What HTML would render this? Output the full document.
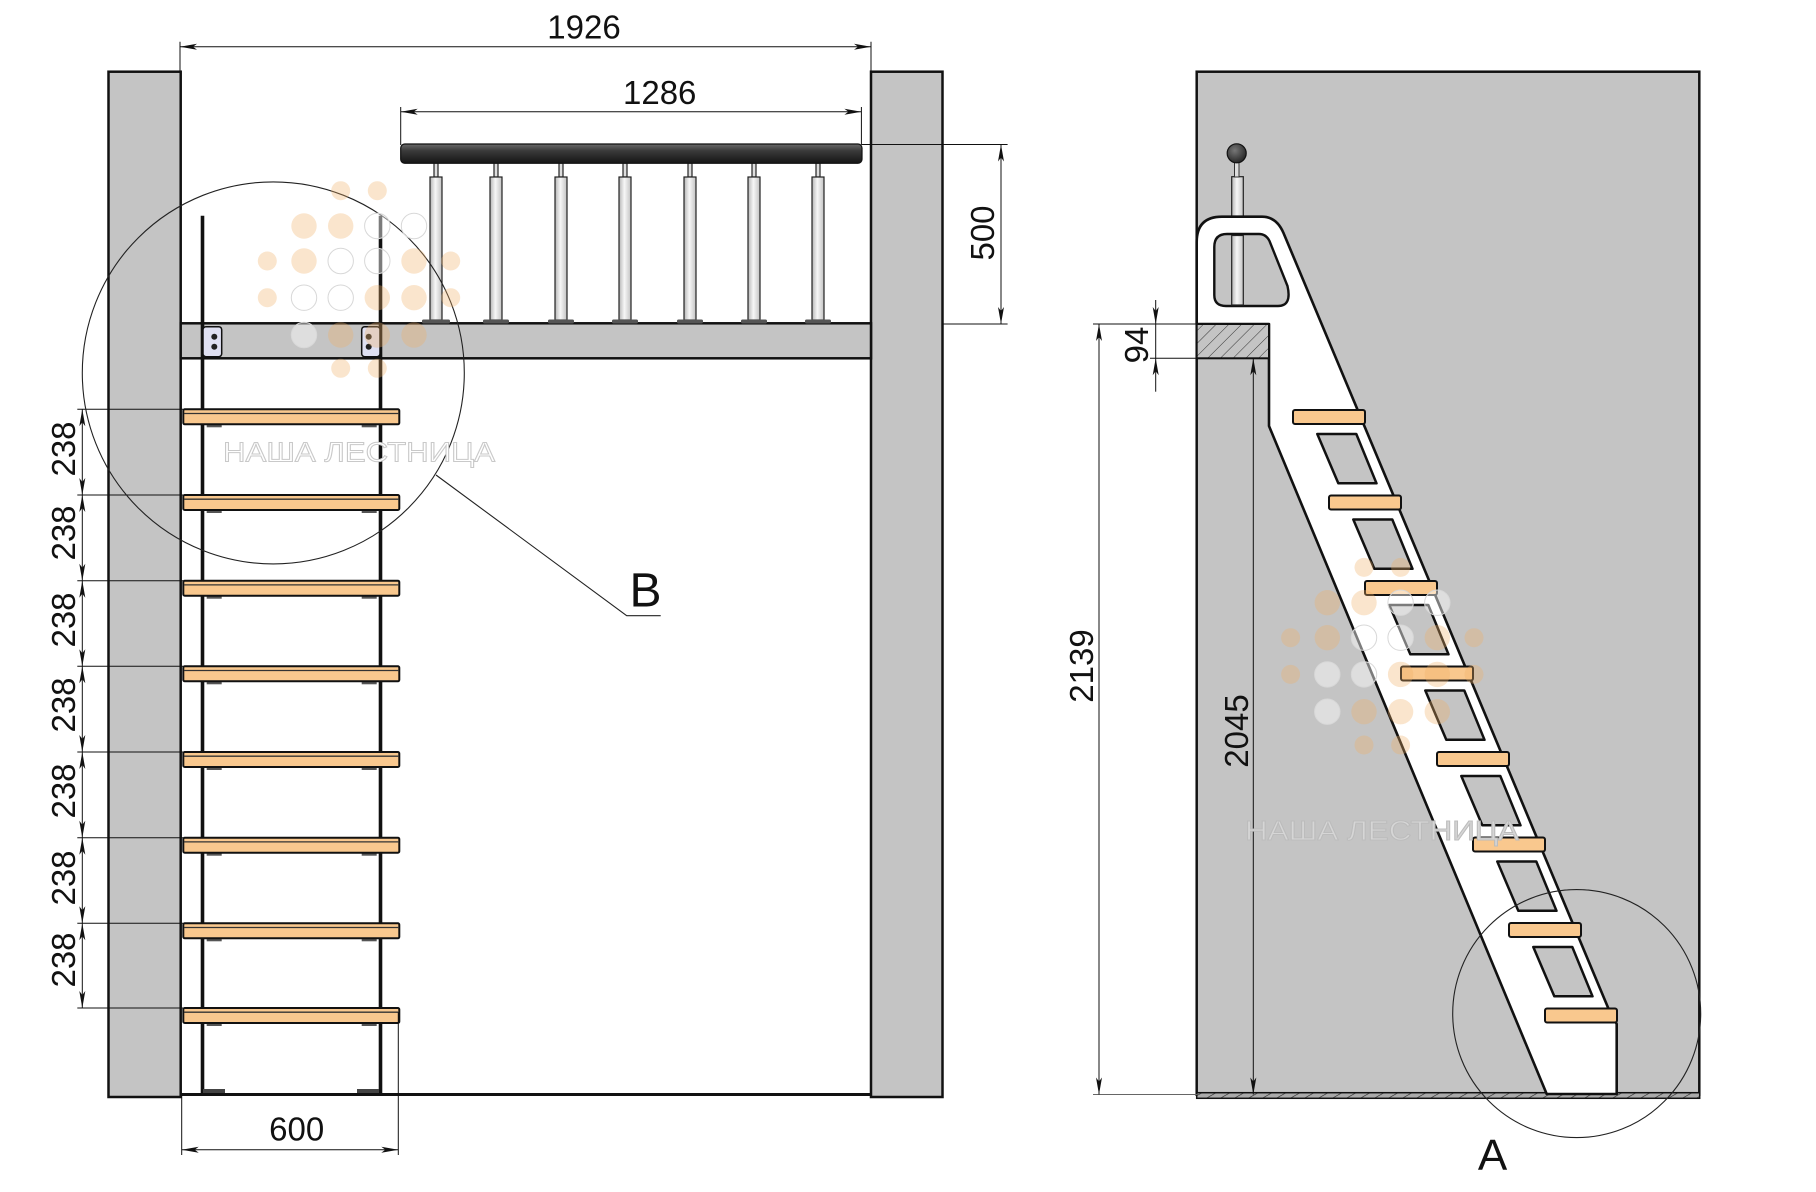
<!DOCTYPE html>
<html><head><meta charset="utf-8"><style>
html,body{margin:0;padding:0;background:#fff;}
svg{display:block;}
text{font-family:"Liberation Sans","Noto Sans CJK SC",sans-serif;fill:#111;}
</style></head><body>
<svg width="1816" height="1192" viewBox="0 0 1816 1192" xmlns="http://www.w3.org/2000/svg">
<defs>
<marker id="ar" viewBox="-20 -5 22 10" refX="0" refY="0" markerWidth="22" markerHeight="10" markerUnits="userSpaceOnUse" orient="auto-start-reverse"><path d="M0,0 L-17,-3 L-13,0 L-17,3 Z" fill="#111"/></marker>
<linearGradient id="rail" x1="0" y1="0" x2="0" y2="1"><stop offset="0" stop-color="#6a6a6a"/><stop offset="0.35" stop-color="#3a3a3a"/><stop offset="1" stop-color="#151515"/></linearGradient>
<linearGradient id="tube" x1="0" y1="0" x2="1" y2="0"><stop offset="0" stop-color="#b5b5b5"/><stop offset="0.45" stop-color="#f7f7f7"/><stop offset="1" stop-color="#c2c2c2"/></linearGradient>
<radialGradient id="ball" cx="0.4" cy="0.35" r="0.7"><stop offset="0" stop-color="#777"/><stop offset="1" stop-color="#222"/></radialGradient>
<pattern id="hatch" width="9" height="9" patternUnits="userSpaceOnUse" patternTransform="rotate(45)"><rect width="9" height="9" fill="#c4c4c4"/><line x1="0" y1="0" x2="0" y2="9" stroke="#333" stroke-width="1"/></pattern>
<pattern id="fh" width="7" height="7" patternUnits="userSpaceOnUse" patternTransform="rotate(60)"><rect width="7" height="7" fill="#aaa"/><line x1="0" y1="0" x2="0" y2="7" stroke="#222" stroke-width="1.2"/></pattern>
<g id="wm">
 <g fill="#f0b066" fill-opacity="0.33">
  <circle cx="340.7" cy="190.7" r="9.5"/><circle cx="377.3" cy="190.7" r="9.5"/>
  <circle cx="304" cy="226" r="12.7"/><circle cx="340.7" cy="226" r="12.7"/>
  <circle cx="267.3" cy="261" r="9.5"/><circle cx="304" cy="261" r="12.7"/><circle cx="414" cy="261" r="12.7"/><circle cx="450.7" cy="261" r="9.5"/>
  <circle cx="267.3" cy="297.7" r="9.5"/><circle cx="377.3" cy="297.7" r="12.7"/><circle cx="414" cy="297.7" r="12.7"/><circle cx="450.7" cy="297.7" r="9.5"/>
  <circle cx="340.7" cy="335" r="12.7"/><circle cx="377.3" cy="335" r="12.7"/><circle cx="414" cy="335" r="12.7"/>
  <circle cx="340.7" cy="368.3" r="9.5"/><circle cx="377.3" cy="368.3" r="9.5"/>
 </g>
 <g fill="#fff" fill-opacity="0.45" stroke="#d8d8d8" stroke-width="1">
  <circle cx="377.3" cy="226" r="12.7"/><circle cx="414" cy="226" r="12.7"/>
  <circle cx="340.7" cy="261" r="12.7"/><circle cx="377.3" cy="261" r="12.7"/>
  <circle cx="304" cy="297.7" r="12.7"/><circle cx="340.7" cy="297.7" r="12.7"/>
  <circle cx="304" cy="335" r="12.7"/>
 </g>
</g>
</defs>

<!-- ================= LEFT VIEW ================= -->
<rect x="108.5" y="71.7" width="72.2" height="1025.3" fill="#c4c4c4" stroke="#111" stroke-width="2.5"/>
<rect x="871" y="71.7" width="71.5" height="1025.3" fill="#c4c4c4" stroke="#111" stroke-width="2.5"/>
<rect x="180.7" y="323.3" width="690.3" height="35" fill="#c4c4c4" stroke="#111" stroke-width="2.5"/>
<line x1="180" y1="1094.5" x2="871" y2="1094.5" stroke="#111" stroke-width="3"/>

<!-- handrail -->
<g stroke="#222" stroke-width="1.2">
 <rect x="434" y="163" width="4" height="14" fill="#ddd"/><rect x="430" y="177" width="12" height="143" fill="url(#tube)"/>
 <rect x="494" y="163" width="4" height="14" fill="#ddd"/><rect x="490" y="177" width="12" height="143" fill="url(#tube)"/>
 <rect x="559" y="163" width="4" height="14" fill="#ddd"/><rect x="555" y="177" width="12" height="143" fill="url(#tube)"/>
 <rect x="623" y="163" width="4" height="14" fill="#ddd"/><rect x="619" y="177" width="12" height="143" fill="url(#tube)"/>
 <rect x="688" y="163" width="4" height="14" fill="#ddd"/><rect x="684" y="177" width="12" height="143" fill="url(#tube)"/>
 <rect x="752" y="163" width="4" height="14" fill="#ddd"/><rect x="748" y="177" width="12" height="143" fill="url(#tube)"/>
 <rect x="816" y="163" width="4" height="14" fill="#ddd"/><rect x="812" y="177" width="12" height="143" fill="url(#tube)"/>
</g>
<g fill="#555">
 <rect x="422" y="319.5" width="28" height="4" rx="1.5"/>
 <rect x="483" y="319.5" width="26" height="4" rx="1.5"/>
 <rect x="548" y="319.5" width="26" height="4" rx="1.5"/>
 <rect x="612" y="319.5" width="26" height="4" rx="1.5"/>
 <rect x="677" y="319.5" width="26" height="4" rx="1.5"/>
 <rect x="741" y="319.5" width="26" height="4" rx="1.5"/>
 <rect x="805" y="319.5" width="26" height="4" rx="1.5"/>
</g>
<rect x="400.7" y="144" width="461.3" height="19.3" rx="4" fill="url(#rail)" stroke="#111" stroke-width="1.2"/>

<!-- ladder rails -->
<line x1="202.5" y1="215.7" x2="202.5" y2="1093" stroke="#111" stroke-width="3.6"/>
<line x1="380.5" y1="215.7" x2="380.5" y2="1093" stroke="#111" stroke-width="3.6"/>
<rect x="203" y="1089" width="22" height="4" fill="#444"/><rect x="357" y="1089" width="22" height="4" fill="#444"/>
<!-- brackets -->
<rect x="203" y="326.7" width="18.7" height="30" rx="3" fill="#dfe0f2" stroke="#111" stroke-width="1.5"/>
<circle cx="214.3" cy="336.7" r="3" fill="#222"/><circle cx="214.3" cy="346.7" r="3" fill="#222"/>
<rect x="361.7" y="326.7" width="18.3" height="30" rx="3" fill="#dfe0f2" stroke="#111" stroke-width="1.5"/>
<circle cx="368.7" cy="336.7" r="3" fill="#222"/><circle cx="368.7" cy="346.7" r="3" fill="#222"/>

<!-- steps left view -->
<g>
 <g fill="#555">
  <rect x="206.7" y="424.3" width="15" height="3"/><rect x="361.7" y="424.3" width="15" height="3"/>
  <rect x="206.7" y="510" width="15" height="3"/><rect x="361.7" y="510" width="15" height="3"/>
  <rect x="206.7" y="595.7" width="15" height="3"/><rect x="361.7" y="595.7" width="15" height="3"/>
  <rect x="206.7" y="681.3" width="15" height="3"/><rect x="361.7" y="681.3" width="15" height="3"/>
  <rect x="206.7" y="767" width="15" height="3"/><rect x="361.7" y="767" width="15" height="3"/>
  <rect x="206.7" y="852.7" width="15" height="3"/><rect x="361.7" y="852.7" width="15" height="3"/>
  <rect x="206.7" y="938.3" width="15" height="3"/><rect x="361.7" y="938.3" width="15" height="3"/>
  <rect x="206.7" y="1023" width="15" height="3"/><rect x="361.7" y="1023" width="15" height="3"/>
 </g>
 <g fill="#f9c88e" stroke="#111" stroke-width="2">
  <rect x="183.3" y="409.3" width="216" height="15" rx="1.5"/>
  <rect x="183.3" y="495" width="216" height="15" rx="1.5"/>
  <rect x="183.3" y="580.7" width="216" height="15" rx="1.5"/>
  <rect x="183.3" y="666.3" width="216" height="15" rx="1.5"/>
  <rect x="183.3" y="752" width="216" height="15" rx="1.5"/>
  <rect x="183.3" y="837.7" width="216" height="15" rx="1.5"/>
  <rect x="183.3" y="923.3" width="216" height="15" rx="1.5"/>
  <rect x="183.3" y="1008" width="216" height="15" rx="1.5"/>
 </g>
 <g stroke="#333" stroke-width="1.3">
  <line x1="184" y1="413.5" x2="399" y2="413.5"/>
  <line x1="184" y1="499.2" x2="399" y2="499.2"/>
  <line x1="184" y1="584.9" x2="399" y2="584.9"/>
  <line x1="184" y1="670.5" x2="399" y2="670.5"/>
  <line x1="184" y1="756.2" x2="399" y2="756.2"/>
  <line x1="184" y1="841.9" x2="399" y2="841.9"/>
  <line x1="184" y1="927.5" x2="399" y2="927.5"/>
  <line x1="184" y1="1012.2" x2="399" y2="1012.2"/>
 </g>
</g>

<!-- dimension chain 238 -->
<g stroke="#111" stroke-width="1">
 <line x1="77.3" y1="409.3" x2="183" y2="409.3"/>
 <line x1="77.3" y1="495" x2="183" y2="495"/>
 <line x1="77.3" y1="580.7" x2="183" y2="580.7"/>
 <line x1="77.3" y1="666.3" x2="183" y2="666.3"/>
 <line x1="77.3" y1="752" x2="183" y2="752"/>
 <line x1="77.3" y1="837.7" x2="183" y2="837.7"/>
 <line x1="77.3" y1="923.3" x2="183" y2="923.3"/>
 <line x1="77.3" y1="1008" x2="183" y2="1008"/>
 <line x1="82.3" y1="409.3" x2="82.3" y2="495" marker-start="url(#ar)" marker-end="url(#ar)"/>
 <line x1="82.3" y1="495" x2="82.3" y2="580.7" marker-start="url(#ar)" marker-end="url(#ar)"/>
 <line x1="82.3" y1="580.7" x2="82.3" y2="666.3" marker-start="url(#ar)" marker-end="url(#ar)"/>
 <line x1="82.3" y1="666.3" x2="82.3" y2="752" marker-start="url(#ar)" marker-end="url(#ar)"/>
 <line x1="82.3" y1="752" x2="82.3" y2="837.7" marker-start="url(#ar)" marker-end="url(#ar)"/>
 <line x1="82.3" y1="837.7" x2="82.3" y2="923.3" marker-start="url(#ar)" marker-end="url(#ar)"/>
 <line x1="82.3" y1="923.3" x2="82.3" y2="1008" marker-start="url(#ar)" marker-end="url(#ar)"/>
</g>
<g font-size="33" text-anchor="middle">
 <text transform="translate(75,449) rotate(-90)">238</text>
 <text transform="translate(75,533) rotate(-90)">238</text>
 <text transform="translate(75,620) rotate(-90)">238</text>
 <text transform="translate(75,705) rotate(-90)">238</text>
 <text transform="translate(75,791) rotate(-90)">238</text>
 <text transform="translate(75,878) rotate(-90)">238</text>
 <text transform="translate(75,960) rotate(-90)">238</text>
</g>

<!-- 1926 -->
<g stroke="#111" stroke-width="1">
 <line x1="180" y1="41.7" x2="180" y2="71.7"/>
 <line x1="871" y1="41.7" x2="871" y2="71.7"/>
 <line x1="180" y1="46.7" x2="871" y2="46.7" marker-start="url(#ar)" marker-end="url(#ar)"/>
 <line x1="400.7" y1="107" x2="400.7" y2="145"/>
 <line x1="861.4" y1="107" x2="861.4" y2="145"/>
 <line x1="400.7" y1="111.7" x2="861.4" y2="111.7" marker-start="url(#ar)" marker-end="url(#ar)"/>
 <line x1="862" y1="144.5" x2="1007.6" y2="144.5"/>
 <line x1="942" y1="324" x2="1007.6" y2="324"/>
 <line x1="1001" y1="144.5" x2="1001" y2="324" marker-start="url(#ar)" marker-end="url(#ar)"/>
 <line x1="181.7" y1="1096" x2="181.7" y2="1155"/>
 <line x1="398.3" y1="1012" x2="398.3" y2="1155"/>
 <line x1="181.7" y1="1149.7" x2="398.3" y2="1149.7" marker-start="url(#ar)" marker-end="url(#ar)"/>
</g>
<g font-size="33" text-anchor="middle">
 <text x="584" y="38.3">1926</text>
 <text x="659.7" y="104">1286</text>
 <text transform="translate(994,233) rotate(-90)">500</text>
 <text x="296.7" y="1140.3">600</text>
</g>

<!-- circle B -->
<circle cx="273.3" cy="372.9" r="191" fill="none" stroke="#222" stroke-width="1.1"/>
<polyline points="436,475 626.7,615.7 660.7,615.7" fill="none" stroke="#222" stroke-width="1.1"/>
<text x="645.5" y="606.7" font-size="48" text-anchor="middle">B</text>

<!-- watermark left -->
<use href="#wm"/>
<text x="223" y="461.7" font-size="28" textLength="272" lengthAdjust="spacingAndGlyphs" fill="#fff" style="fill:#fff" stroke="#c9c9c9" stroke-width="1">НАША ЛЕСТНИЦА</text>

<!-- ================= SIDE VIEW ================= -->
<rect x="1196.7" y="71.7" width="502.6" height="1023" fill="#c4c4c4" stroke="#111" stroke-width="2.5"/>
<rect x="1196.7" y="1092.7" width="503" height="5.6" fill="url(#fh)" stroke="#111" stroke-width="1.5"/>

<!-- pole above stringer -->
<rect x="1231.7" y="176.7" width="11.6" height="42" fill="url(#tube)" stroke="#222" stroke-width="1.2"/>
<rect x="1234.5" y="161" width="4.5" height="16" fill="#ddd" stroke="#333" stroke-width="1"/>
<circle cx="1236.7" cy="153.3" r="9.5" fill="url(#ball)" stroke="#111" stroke-width="1.2"/>

<!-- stringer -->
<path d="M1196.7,324 L1196.7,242 Q1196.7,216.7 1222,216.7 L1262,216.7 Q1276.6,216.7 1283.5,233 L1608.2,1008 L1616.7,1024 L1616.7,1094 L1546.7,1094 L1269,426 L1269,324 Z" fill="#fff" stroke="#111" stroke-width="2.6" stroke-linejoin="round"/>
<!-- hole -->
<path d="M1214.3,247 Q1214.3,234 1227,234 L1259,234 Q1266,234 1269.5,241 L1287.5,286 Q1292,306 1278,306 L1226,306 Q1214.3,306 1214.3,295 Z" fill="#c4c4c4" stroke="#111" stroke-width="2.4"/>
<rect x="1231.7" y="235.5" width="11.6" height="69.5" fill="url(#tube)" stroke="#222" stroke-width="1.2"/>
<!-- hatched block -->
<rect x="1196.7" y="324" width="72.3" height="34.3" fill="url(#hatch)" stroke="#111" stroke-width="2"/>

<!-- windows -->
<g fill="#c4c4c4" stroke="#111" stroke-width="2.5" stroke-linejoin="round">
 <polygon points="1317.3,434 1356.3,434 1376.5,483.3 1338.3,483.3"/>
 <polygon points="1353.3,519.5 1392.3,519.5 1412.5,568.8 1374.3,568.8"/>
 <polygon points="1389.3,605 1428.3,605 1448.5,654.3 1410.3,654.3"/>
 <polygon points="1425.3,690.5 1464.3,690.5 1484.5,739.8 1446.3,739.8"/>
 <polygon points="1461.3,776 1500.3,776 1520.5,825.3 1482.3,825.3"/>
 <polygon points="1497.3,861.5 1536.3,861.5 1556.5,910.8 1518.3,910.8"/>
 <polygon points="1533.3,947 1572.3,947 1592.5,996.3 1554.3,996.3"/>
</g>
<!-- steps side -->
<g fill="#f9c88e" stroke="#111" stroke-width="2">
 <rect x="1293" y="410" width="72" height="14" rx="2"/>
 <rect x="1329" y="495.5" width="72" height="14" rx="2"/>
 <rect x="1365" y="581" width="72" height="14" rx="2"/>
 <rect x="1401" y="666.5" width="72" height="14" rx="2"/>
 <rect x="1437" y="752" width="72" height="14" rx="2"/>
 <rect x="1473" y="837.5" width="72" height="14" rx="2"/>
 <rect x="1509" y="923" width="72" height="14" rx="2"/>
 <rect x="1545" y="1008.5" width="72" height="14" rx="2"/>
</g>

<!-- side dims -->
<g stroke="#111" stroke-width="1">
 <line x1="1093" y1="324" x2="1197" y2="324"/>
 <line x1="1093" y1="1094.5" x2="1197" y2="1094.5" stroke="#666"/>
 <line x1="1099" y1="324" x2="1099" y2="1094.5" marker-start="url(#ar)" marker-end="url(#ar)"/>
 <line x1="1150" y1="358.3" x2="1197" y2="358.3"/>
 <line x1="1155.7" y1="324" x2="1155.7" y2="358.3"/>
 <line x1="1155.7" y1="300" x2="1155.7" y2="324" marker-end="url(#ar)"/>
 <line x1="1155.7" y1="391.7" x2="1155.7" y2="358.3" marker-end="url(#ar)"/>
 <line x1="1253.3" y1="358.3" x2="1253.3" y2="1094.5" marker-start="url(#ar)" marker-end="url(#ar)"/>
</g>
<g font-size="33" text-anchor="middle">
 <text transform="translate(1148,345) rotate(-90)">94</text>
 <text transform="translate(1093,666) rotate(-90)">2139</text>
 <text transform="translate(1248,731) rotate(-90)">2045</text>
</g>

<!-- watermark side -->
<use href="#wm" transform="translate(1023.3,376.7)"/>
<text x="1245" y="840" font-size="28" textLength="274" lengthAdjust="spacingAndGlyphs" style="fill:#d6d6d6" stroke="#bcbcbc" stroke-width="1">НАША ЛЕСТНИЦА</text>

<!-- circle A -->
<circle cx="1576.7" cy="1013.6" r="124" fill="none" stroke="#222" stroke-width="1.1"/>
<text x="1492.5" y="1170" font-size="44" text-anchor="middle">A</text>
</svg>
</body></html>
